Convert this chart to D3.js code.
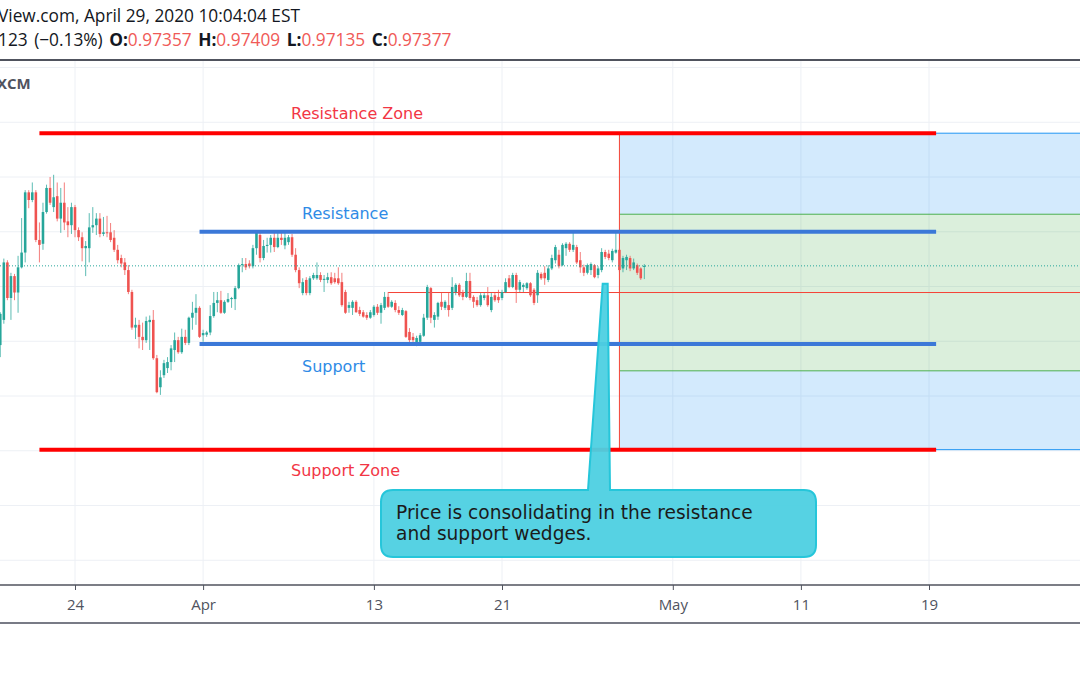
<!DOCTYPE html>
<html>
<head>
<meta charset="utf-8">
<script src="https://cdn.jsdelivr.net/npm/d3@7"></script>
<style>
  body { margin: 0; background: #fff; }
  svg { display: block; }
</style>
</head>
<body>
<svg id="chart" width="1080" height="675"></svg>
<script>
// 4h candles, 6 per trading day, index 0 = first candle of Mar 24
const candleStart = -21;
// [open, high, low, close]
const candles = [
  [0.9593,0.9653,0.9571,0.9650],[0.9639,0.9751,0.9632,0.9744],[0.9744,0.9748,0.9675,0.9679],[0.9679,0.9725,0.9639,0.9719],[0.9719,0.9723,0.9675,0.9689],[0.9689,0.9756,0.9652,0.9735],
  [0.9735,0.9825,0.9733,0.9762],[0.9762,0.9876,0.9744,0.9872],[0.9872,0.9876,0.9843,0.9858],[0.9858,0.9890,0.9854,0.9872],[0.9872,0.9876,0.9781,0.9785],[0.9785,0.9817,0.9744,0.9776],
  [0.9778,0.9853,0.9767,0.9836],[0.9836,0.9886,0.9833,0.9880],[0.9880,0.9900,0.9849,0.9853],[0.9845,0.9904,0.9836,0.9863],[0.9865,0.9890,0.9819,0.9824],[0.9824,0.9880,0.9798,0.9853],
  [0.9853,0.9890,0.9803,0.9817],[0.9819,0.9845,0.9790,0.9812],[0.9812,0.9853,0.9796,0.9845],[0.9845,0.9849,0.9790,0.9803],[0.9803,0.9808,0.9783,0.9790],[0.9790,0.9799,0.9746,0.9770],
  [0.9770,0.9783,0.9719,0.9774],[0.9770,0.9834,0.9744,0.9808],[0.9808,0.9845,0.9798,0.9812],[0.9812,0.9834,0.9794,0.9824],[0.9824,0.9834,0.9790,0.9796],[0.9796,0.9827,0.9792,0.9799],
  [0.9799,0.9829,0.9790,0.9798],[0.9799,0.9816,0.9781,0.9785],[0.9789,0.9803,0.9763,0.9767],[0.9767,0.9776,0.9742,0.9748],[0.9752,0.9758,0.9735,0.9742],[0.9744,0.9752,0.9721,0.9730],
  [0.9730,0.9739,0.9686,0.9690],[0.9690,0.9694,0.9621,0.9625],[0.9625,0.9643,0.9604,0.9630],[0.9630,0.9639,0.9587,0.9608],[0.9608,0.9634,0.9584,0.9602],[0.9602,0.9645,0.9597,0.9637],
  [0.9635,0.9647,0.9584,0.9639],[0.9639,0.9657,0.9566,0.9569],[0.9569,0.9575,0.9505,0.9507],[0.9516,0.9547,0.9502,0.9534],[0.9538,0.9566,0.9533,0.9560],[0.9551,0.9571,0.9542,0.9562],
  [0.9562,0.9593,0.9547,0.9587],[0.9584,0.9616,0.9562,0.9602],[0.9602,0.9608,0.9577,0.9580],[0.9580,0.9623,0.9577,0.9608],[0.9608,0.9621,0.9593,0.9597],[0.9597,0.9645,0.9593,0.9643],
  [0.9643,0.9672,0.9621,0.9652],[0.9652,0.9686,0.9630,0.9661],[0.9661,0.9664,0.9606,0.9608],[0.9611,0.9621,0.9599,0.9615],[0.9612,0.9619,0.9608,0.9616],[0.9616,0.9666,0.9611,0.9646],
  [0.9646,0.9690,0.9643,0.9670],[0.9670,0.9690,0.9653,0.9675],[0.9675,0.9692,0.9650,0.9652],[0.9652,0.9675,0.9650,0.9672],[0.9672,0.9688,0.9670,0.9677],[0.9677,0.9681,0.9661,0.9679],
  [0.9677,0.9701,0.9657,0.9697],[0.9697,0.9742,0.9695,0.9739],[0.9739,0.9752,0.9726,0.9741],[0.9741,0.9752,0.9730,0.9735],[0.9742,0.9748,0.9733,0.9737],[0.9737,0.9776,0.9733,0.9770],
  [0.9770,0.9799,0.9758,0.9798],[0.9794,0.9799,0.9744,0.9752],[0.9752,0.9785,0.9748,0.9774],[0.9774,0.9789,0.9762,0.9776],[0.9776,0.9794,0.9762,0.9789],[0.9789,0.9798,0.9763,0.9772],
  [0.9772,0.9799,0.9770,0.9789],[0.9789,0.9799,0.9776,0.9785],[0.9775,0.9798,0.9768,0.9789],[0.9781,0.9794,0.9776,0.9790],[0.9790,0.9796,0.9754,0.9758],[0.9758,0.9770,0.9726,0.9730],
  [0.9730,0.9735,0.9697,0.9706],[0.9688,0.9715,0.9684,0.9708],[0.9712,0.9717,0.9684,0.9688],[0.9688,0.9719,0.9684,0.9715],[0.9715,0.9725,0.9712,0.9721],[0.9715,0.9744,0.9712,0.9721],
  [0.9721,0.9726,0.9708,0.9712],[0.9712,0.9721,0.9690,0.9714],[0.9712,0.9725,0.9706,0.9717],[0.9717,0.9726,0.9703,0.9706],[0.9715,0.9725,0.9705,0.9708],[0.9715,0.9735,0.9703,0.9706],
  [0.9708,0.9725,0.9663,0.9666],[0.9690,0.9694,0.9650,0.9652],[0.9661,0.9672,0.9652,0.9666],[0.9661,0.9675,0.9648,0.9672],[0.9672,0.9675,0.9652,0.9653],[0.9657,0.9663,0.9646,0.9650],
  [0.9653,0.9657,0.9643,0.9645],[0.9648,0.9653,0.9639,0.9643],[0.9643,0.9657,0.9641,0.9653],[0.9648,0.9666,0.9645,0.9663],[0.9663,0.9668,0.9648,0.9652],[0.9652,0.9670,0.9632,0.9666],
  [0.9661,0.9690,0.9657,0.9681],[0.9681,0.9690,0.9661,0.9663],[0.9663,0.9675,0.9661,0.9672],[0.9670,0.9675,0.9653,0.9657],[0.9657,0.9664,0.9648,0.9652],[0.9648,0.9661,0.9646,0.9657],
  [0.9655,0.9657,0.9606,0.9608],[0.9617,0.9624,0.9597,0.9602],[0.9608,0.9615,0.9593,0.9602],[0.9597,0.9610,0.9591,0.9606],[0.9599,0.9615,0.9597,0.9611],[0.9610,0.9650,0.9608,0.9643],
  [0.9643,0.9703,0.9639,0.9699],[0.9697,0.9699,0.9633,0.9643],[0.9639,0.9653,0.9625,0.9648],[0.9645,0.9672,0.9639,0.9670],[0.9672,0.9688,0.9657,0.9663],[0.9661,0.9675,0.9657,0.9672],
  [0.9666,0.9688,0.9645,0.9657],[0.9661,0.9717,0.9657,0.9699],[0.9690,0.9706,0.9684,0.9703],[0.9703,0.9706,0.9681,0.9684],[0.9690,0.9694,0.9675,0.9681],[0.9681,0.9725,0.9679,0.9710],
  [0.9710,0.9725,0.9675,0.9679],[0.9681,0.9684,0.9661,0.9672],[0.9675,0.9681,0.9663,0.9666],[0.9666,0.9688,0.9663,0.9684],[0.9679,0.9688,0.9675,0.9684],[0.9684,0.9699,0.9663,0.9666],
  [0.9657,0.9688,0.9653,0.9681],[0.9684,0.9688,0.9672,0.9675],[0.9681,0.9694,0.9670,0.9675],[0.9679,0.9694,0.9675,0.9690],[0.9690,0.9715,0.9688,0.9708],[0.9715,0.9721,0.9697,0.9699],
  [0.9699,0.9725,0.9697,0.9721],[0.9721,0.9725,0.9670,0.9694],[0.9694,0.9712,0.9690,0.9708],[0.9699,0.9706,0.9690,0.9703],[0.9697,0.9708,0.9694,0.9706],[0.9706,0.9708,0.9681,0.9684],
  [0.9694,0.9697,0.9666,0.9670],[0.9684,0.9730,0.9670,0.9725],[0.9723,0.9726,0.9712,0.9715],[0.9725,0.9737,0.9703,0.9715],[0.9712,0.9739,0.9708,0.9733],[0.9733,0.9758,0.9730,0.9752],
  [0.9748,0.9776,0.9742,0.9772],[0.9758,0.9767,0.9733,0.9737],[0.9739,0.9779,0.9737,0.9776],[0.9770,0.9781,0.9756,0.9778],[0.9778,0.9781,0.9763,0.9767],[0.9767,0.9803,0.9763,0.9776],
  [0.9772,0.9776,0.9741,0.9744],[0.9748,0.9763,0.9725,0.9735],[0.9735,0.9740,0.9719,0.9725],[0.9725,0.9742,0.9722,0.9739],[0.9730,0.9744,0.9721,0.9741],[0.9739,0.9741,0.9715,0.9717],
  [0.9721,0.9737,0.9715,0.9733],[0.9730,0.9770,0.9726,0.9763],[0.9763,0.9767,0.9750,0.9754],[0.9760,0.9767,0.9748,0.9752],[0.9748,0.9769,0.9744,0.9765],[0.9762,0.9799,0.9760,0.9767],
  [0.9767,0.9770,0.9726,0.9730],[0.9733,0.9756,0.9726,0.9752],[0.9748,0.9758,0.9730,0.9754],[0.9752,0.9756,0.9728,0.9733],[0.9733,0.9751,0.9730,0.9744],[0.9739,0.9742,0.9721,0.9725],
  [0.9733,0.9735,0.9712,0.9715],[0.97357,0.97409,0.97135,0.97377]
];

const tickIndex = [0, 36, 84, 120, 168, 204, 240];
const tickLabels = ['24', 'Apr', '13', '21', 'May', '11', '19'];
const gridPrices = [1.01, 1.00, 0.99, 0.98, 0.97, 0.96, 0.95, 0.94, 0.93, 0.92];

const levelNames = ['Resistance Zone', 'Resistance', 'Support', 'Support Zone'];
const levelPrices = [0.9980, 0.9800, 0.9595, 0.9402];
const levelFrom = [-10, 35, 35, -10];
const levelTo = [242, 242, 242, 242];

// long/short position tool: stop, target, entry, target, stop
const positionStart = 153;
const positionPrices = [0.9980, 0.9832, 0.9689, 0.9546, 0.9402];
const entryLineFrom = 88;

const calloutLines = ['Price is consolidating in the resistance', 'and support wedges.'];
const calloutTip = [149, 0.9705];

const headerTitle = 'View.com, April 29, 2020 10:04:04 EST';
const headerChange = '123 (\u22120.13%)';
const ohlcNames = ['O:', 'H:', 'L:', 'C:'];

const W = 1080, H = 675;
const plotTop = 61, plotBottom = 585;
const up = '#26a69a', down = '#ef5350';

const svg = d3.select('#chart');
const x = d3.scaleLinear().domain([0, 240]).range([75, 929]);
const y = d3.scaleLinear().domain([0.92, 1.01]).range([560.25, 67.5]);

svg.append('defs').append('clipPath').attr('id', 'plot')
  .append('rect').attr('x', 0).attr('y', plotTop).attr('width', W).attr('height', plotBottom - plotTop);

const plot = svg.append('g').attr('clip-path', 'url(#plot)');

// grid
plot.selectAll('.hgrid').data(gridPrices).join('line')
    .attr('x1', 0).attr('x2', W)
    .attr('y1', (d) => y(d)).attr('y2', (d) => y(d))
    .attr('stroke', '#edf0f5');
plot.selectAll('.vgrid').data(tickIndex).join('line')
    .attr('x1', (d) => x(d)).attr('x2', (d) => x(d))
    .attr('y1', plotTop).attr('y2', plotBottom)
    .attr('stroke', '#edf0f5');

// position tool
const px0 = x(positionStart);
const zones = [
  [positionPrices[0], positionPrices[1], 'rgba(33,150,243,0.2)'],
  [positionPrices[1], positionPrices[3], 'rgba(76,175,80,0.2)'],
  [positionPrices[3], positionPrices[4], 'rgba(33,150,243,0.2)'],
];
plot.selectAll('.zone').data(zones).join('rect')
    .attr('x', px0).attr('width', W - px0)
    .attr('y', (d) => y(d[0])).attr('height', (d) => y(d[1]) - y(d[0]))
    .attr('fill', (d) => d[2]);
plot.selectAll('.zline').data([[positionPrices[0], '#2196f3'], [positionPrices[1], '#4caf50'],
                               [positionPrices[3], '#4caf50'], [positionPrices[4], '#2196f3']]).join('line')
    .attr('x1', px0).attr('x2', W)
    .attr('y1', (d) => y(d[0])).attr('y2', (d) => y(d[0]))
    .attr('stroke', (d) => d[1]).attr('stroke-width', 1);
plot.append('line')
    .attr('x1', x(entryLineFrom)).attr('x2', W)
    .attr('y1', y(positionPrices[2])).attr('y2', y(positionPrices[2]))
    .attr('stroke', '#f44336').attr('stroke-width', 1);
plot.append('line')
    .attr('x1', px0).attr('x2', px0)
    .attr('y1', y(positionPrices[0])).attr('y2', y(positionPrices[4]))
    .attr('stroke', '#f44336').attr('stroke-width', 1);

// candles
const bars = candles.map((c, i) => ({ i: candleStart + i, o: c[0], h: c[1], l: c[2], c: c[3] }));
const step = x(1) - x(0);
const cg = plot.append('g');
cg.selectAll('.wick').data(bars).join('line')
    .attr('x1', (d) => x(d.i)).attr('x2', (d) => x(d.i))
    .attr('y1', (d) => y(d.h)).attr('y2', (d) => y(d.l))
    .attr('stroke', (d) => (d.c >= d.o ? up : down))
    .attr('stroke-opacity', 0.75)
    .attr('stroke-width', 1);
cg.selectAll('.body').data(bars).join('rect')
    .attr('x', (d) => x(d.i) - step * 0.36)
    .attr('width', step * 0.72)
    .attr('y', (d) => y(Math.max(d.o, d.c)))
    .attr('height', (d) => Math.max(1, Math.abs(y(d.o) - y(d.c))))
    .attr('fill', (d) => (d.c >= d.o ? up : down));

// last price line
const last = candles[candles.length - 1];
plot.append('line')
    .attr('x1', 0).attr('x2', W)
    .attr('y1', y(last[3])).attr('y2', y(last[3]))
    .attr('stroke', up).attr('stroke-width', 1)
    .attr('stroke-dasharray', '1 2');

// support / resistance levels
const levelColor = ['#ff0000', '#3b78d8', '#3b78d8', '#ff0000'];
const textColor = ['#f23645', '#2f8be6', '#2f8be6', '#f23645'];
const labelX = [291, 302, 302, 291];
const labelDy = [-14, -13, 28, 26];
levelPrices.forEach((p, k) => {
  plot.append('line')
      .attr('x1', x(levelFrom[k])).attr('x2', x(levelTo[k]))
      .attr('y1', y(p)).attr('y2', y(p))
      .attr('stroke', levelColor[k]).attr('stroke-width', 4);
  svg.append('text')
      .attr('x', labelX[k]).attr('y', y(p) + labelDy[k])
      .attr('fill', textColor[k])
      .style('font', '16px "DejaVu Sans", Verdana, sans-serif')
      .text(levelNames[k]);
});

// callout
const bx0 = 381, by0 = 490, bx1 = 816, by1 = 557, r = 12;
const tx = x(calloutTip[0]), ty = y(calloutTip[1]);
const callout = d3.path();
callout.moveTo(bx0 + r, by0);
callout.lineTo(588, by0);
callout.lineTo(tx - 2.5, ty);
callout.lineTo(tx + 2.5, ty);
callout.lineTo(610, by0);
callout.lineTo(bx1 - r, by0);
callout.quadraticCurveTo(bx1, by0, bx1, by0 + r);
callout.lineTo(bx1, by1 - r);
callout.quadraticCurveTo(bx1, by1, bx1 - r, by1);
callout.lineTo(bx0 + r, by1);
callout.quadraticCurveTo(bx0, by1, bx0, by1 - r);
callout.lineTo(bx0, by0 + r);
callout.quadraticCurveTo(bx0, by0, bx0 + r, by0);
callout.closePath();
svg.append('path')
    .attr('d', callout.toString())
    .attr('fill', '#4dd0e1').attr('fill-opacity', 0.95)
    .attr('stroke', '#26c6da').attr('stroke-width', 2);
svg.append('text')
    .attr('x', 396).attr('y', 519)
    .attr('fill', '#1b1b1b')
    .style('font', '18.6px "DejaVu Sans", Verdana, sans-serif')
    .selectAll('tspan').data(calloutLines).join('tspan')
    .attr('x', 396).attr('dy', (d, i) => (i ? 21 : 0))
    .text((d) => d);

// x axis
svg.append('line').attr('x1', 0).attr('x2', W).attr('y1', plotBottom).attr('y2', plotBottom)
    .attr('stroke', '#50535e').attr('stroke-width', 1.5);
const axis = svg.append('g')
    .attr('transform', `translate(0, ${plotBottom})`)
    .call(d3.axisBottom(x).tickValues(tickIndex).tickFormat((d, i) => tickLabels[i]).tickSize(5).tickPadding(9));
axis.select('.domain').remove();
axis.selectAll('line').attr('stroke', '#50535e');
axis.selectAll('text')
    .attr('fill', '#50535e')
    .style('font', '15px "Open Sans", sans-serif');
svg.append('line').attr('x1', 0).attr('x2', W).attr('y1', 623).attr('y2', 623)
    .attr('stroke', '#787b86').attr('stroke-width', 2);

// header
svg.append('line').attr('x1', 0).attr('x2', W).attr('y1', 60).attr('y2', 60)
    .attr('stroke', '#50535e').attr('stroke-width', 2);
svg.append('text')
    .attr('x', -2).attr('y', 22)
    .attr('fill', '#131722')
    .style('font', '17.3px "Open Sans", sans-serif')
    .text(headerTitle);
const h2 = svg.append('text')
    .attr('x', -2).attr('y', 46)
    .attr('fill', '#131722')
    .style('font', '17.3px "Open Sans", sans-serif')
    .attr('word-spacing', 2);
h2.append('tspan').text(headerChange + ' ');
ohlcNames.forEach((n, k) => {
  h2.append('tspan').attr('font-weight', 'bold').text(n);
  h2.append('tspan').attr('fill', '#f05a57').text(last[k].toFixed(5) + (k < 3 ? ' ' : ''));
});
svg.append('text')
    .attr('x', -3).attr('y', 89)
    .attr('fill', '#50535e')
    .style('font', 'bold 15px "Open Sans", sans-serif')
    .text('XCM');
</script>
</body>
</html>
